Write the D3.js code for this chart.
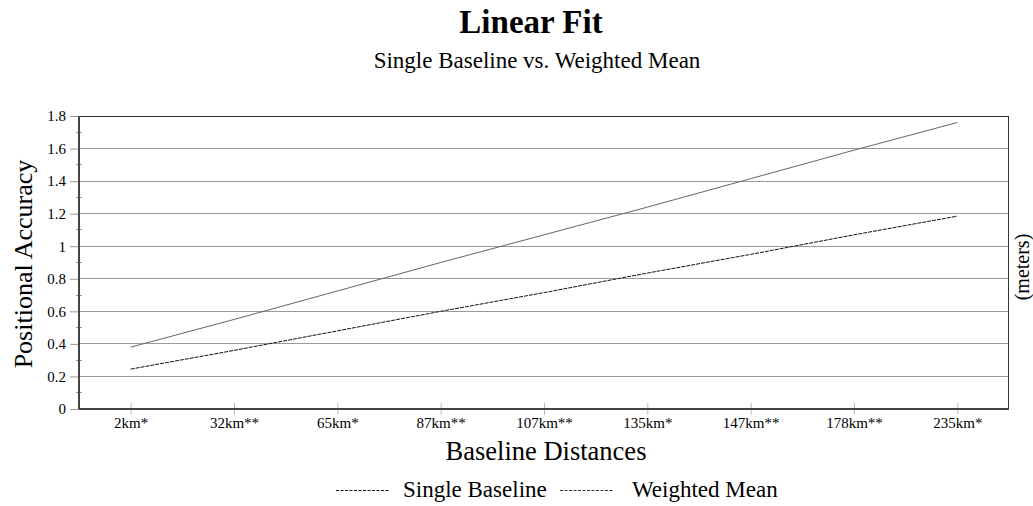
<!DOCTYPE html>
<html><head><meta charset="utf-8">
<script src="https://cdn.jsdelivr.net/npm/d3@7"></script>
<style>body{margin:0;background:#fff}svg{display:block}text{font-family:"Liberation Serif","Times New Roman",serif;fill:#000}</style>
</head><body>
<svg id="c" width="1033" height="506"></svg>
<script>
const categories = ["2km*","32km**","65km*","87km**","107km**","135km*","147km**","178km**","235km*"];
const singleBaseline = [0.245,0.36,0.48,0.60,0.715,0.835,0.95,1.07,1.185];
const weightedMean = [0.38,0.55,0.725,0.90,1.07,1.24,1.415,1.59,1.76];
const yTicks = [0,0.2,0.4,0.6,0.8,1,1.2,1.4,1.6,1.8];

const svg = d3.select("#c");
const L=79,R=1009,T=116,B=409;
const x = d3.scalePoint().domain(categories).range([L,R]).padding(0.5);
const y = d3.scaleLinear().domain([0,1.8]).range([B,T]);

// gridlines
svg.append("g").selectAll("line").data(yTicks.slice(1)).join("line")
  .attr("x1",L).attr("x2",R).attr("y1",d=>y(d)).attr("y2",d=>y(d))
  .attr("stroke","#999").attr("stroke-width",1).attr("shape-rendering","crispEdges");

// minor ticks
const minor = d3.range(0,19).map(i=>i/10).filter(v=>Math.round(v*10)%2===1);
svg.append("g").selectAll("line").data(minor).join("line")
  .attr("x1",L-3).attr("x2",L+3).attr("y1",d=>y(d)).attr("y2",d=>y(d))
  .attr("stroke","#999").attr("shape-rendering","crispEdges");

// y axis
const ya = svg.append("g").attr("transform",`translate(${L},0)`)
  .call(d3.axisLeft(y).tickValues(yTicks).tickFormat(d3.format("~g")).tickSize(9).tickSizeOuter(0));
ya.select(".domain").remove();
ya.selectAll(".tick line").attr("stroke","#999");
ya.selectAll(".tick text").attr("font-size",15).attr("x",-13).style("font-family","Liberation Serif");

// x axis ticks
const xa = svg.append("g").attr("transform",`translate(0,${B})`)
  .call(d3.axisBottom(x).tickSize(6).tickSizeOuter(0));
xa.select(".domain").remove();
xa.selectAll(".tick line").attr("y1",-6).attr("y2",6).attr("stroke","#bbb");
xa.selectAll(".tick text").attr("font-size",15).attr("y",8).style("font-family","Liberation Serif");

// frame
svg.append("rect").attr("x",L+0.5).attr("y",T+0.5).attr("width",R-L-1).attr("height",B-T)
  .attr("fill","none").attr("stroke","#333").attr("stroke-width",1);
svg.append("line").attr("x1",L).attr("x2",R).attr("y1",B).attr("y2",B).attr("stroke","#444").attr("stroke-width",2);
svg.append("line").attr("x1",L).attr("x2",L).attr("y1",T).attr("y2",B).attr("stroke","#444").attr("stroke-width",2);

const line = d3.line().x((d,i)=>x(categories[i])).y(d=>y(d));
svg.append("path").datum(weightedMean).attr("d",line).attr("fill","none").attr("stroke","#666").attr("stroke-width",1);
svg.append("path").datum(singleBaseline).attr("d",line).attr("fill","none").attr("stroke","#111").attr("stroke-width",1).attr("stroke-dasharray","4,1");

// titles
svg.append("text").attr("x",531).attr("y",33).attr("text-anchor","middle").attr("font-size",33).attr("font-weight","bold").text("Linear Fit");
svg.append("text").attr("x",537).attr("y",68).attr("text-anchor","middle").attr("font-size",23).text("Single Baseline vs. Weighted Mean");
svg.append("text").attr("transform","translate(32,264) rotate(-90)").attr("text-anchor","middle").attr("font-size",26).text("Positional Accuracy");
svg.append("text").attr("transform","translate(1029,267) rotate(-90)").attr("text-anchor","middle").attr("font-size",20).text("(meters)");
svg.append("text").attr("x",546).attr("y",460).attr("text-anchor","middle").attr("font-size",26.5).text("Baseline Distances");

// legend
const legend = [{name:"Single Baseline",x:336,tx:403,c:"#111"},{name:"Weighted Mean",x:560,tx:632,c:"#333"}];
const lg = svg.append("g");
legend.forEach(l=>{
  lg.append("line").attr("x1",l.x).attr("x2",l.x+54).attr("y1",490.5).attr("y2",490.5).attr("stroke",l.c).attr("stroke-dasharray","3,1.5");
  lg.append("text").attr("x",l.tx).attr("y",497).attr("font-size",23).text(l.name);
});
</script>
</body></html>
